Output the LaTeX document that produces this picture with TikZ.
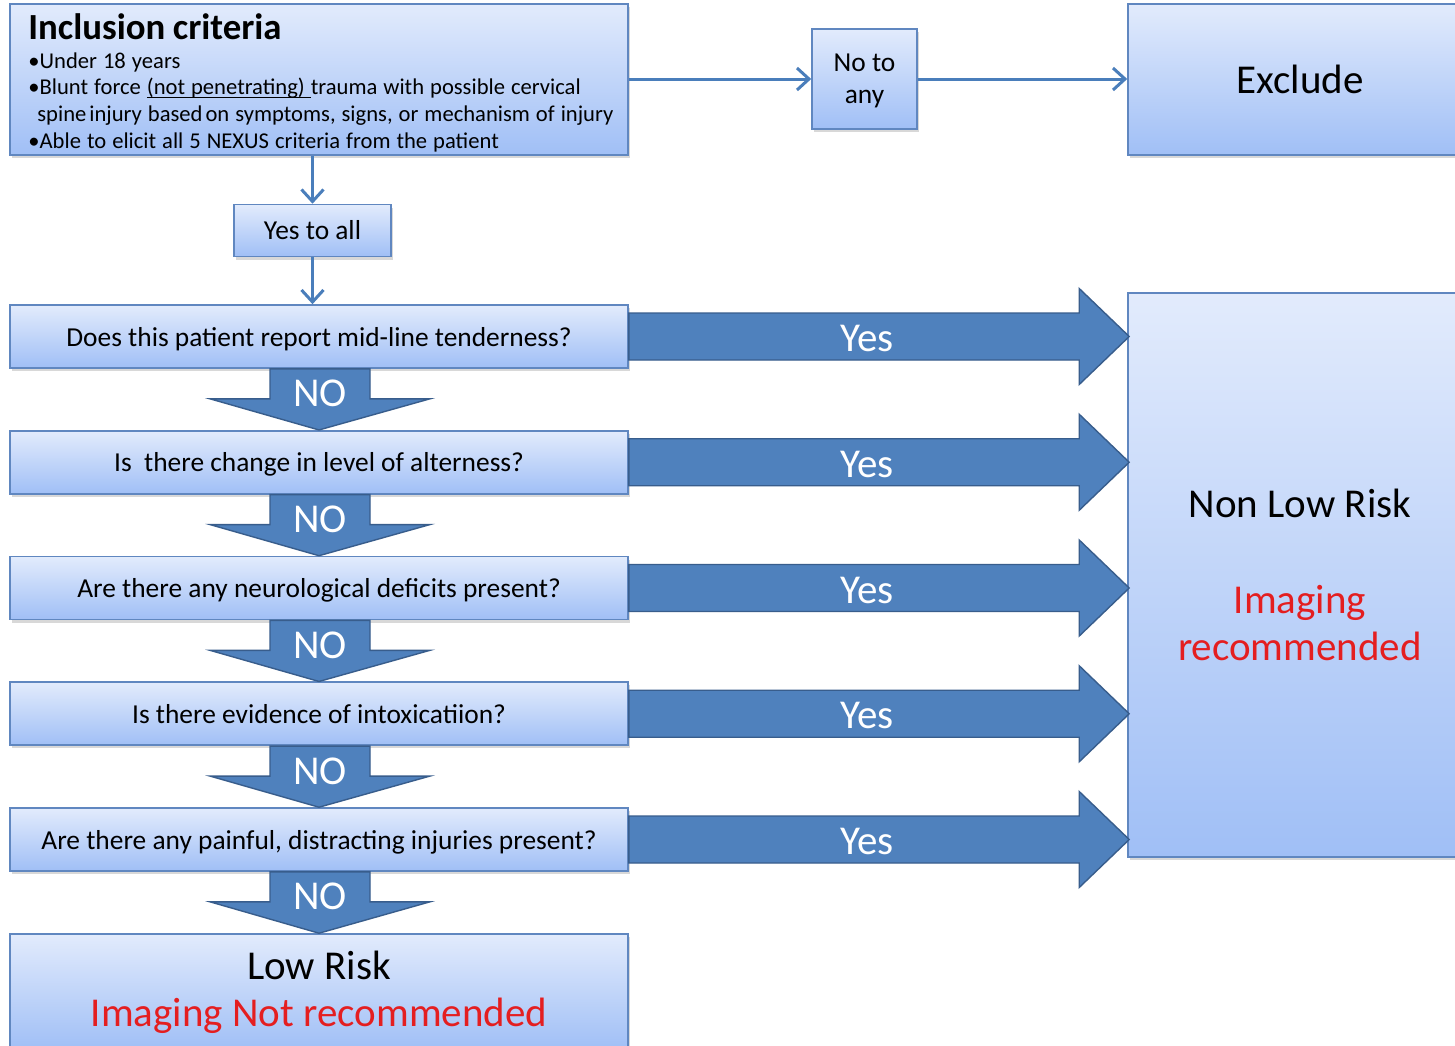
\documentclass[tikz,border=0pt]{standalone}
\usepackage{fontspec}
\setmainfont{Carlito}
\usetikzlibrary{calc, arrows.meta, shadows}
\definecolor{boxtop}{RGB}{226,235,252}
\definecolor{boxbot}{RGB}{160,191,246}
\definecolor{boxline}{RGB}{96,135,192}
\definecolor{fatblue}{RGB}{79,129,189}
\definecolor{fatline}{RGB}{56,93,140}
\definecolor{thinblue}{RGB}{74,126,187}
\definecolor{alertred}{RGB}{228,30,32}
\newcommand{\critul}[1]{\setbox0\hbox{#1}\rlap{\rule[-1.6pt]{\wd0}{0.6pt}}\box0}

\begin{document}
\begin{tikzpicture}[x=0.5pt, y=-0.5pt,
    box/.style={draw=boxline, line width=0.8pt, top color=boxtop, bottom color=boxbot,
        inner sep=0pt, align=center,
        drop shadow={shadow xshift=1pt, shadow yshift=-1.5pt, opacity=0.3}},
    thin/.style={draw=thinblue, line width=1.5pt, -{Straight Barb[length=6pt,width=11pt]}},
    fat/.style={fill=fatblue, draw=fatline, line width=0.7pt},
    mid/.style={font=\fontsize{13.7}{16}\selectfont},
    big/.style={font=\fontsize{20.5}{23.5}\selectfont}]
    \useasboundingbox (0,0) rectangle (1455,1045);
    \fill[white] (0,0) rectangle (1455,1045);
    % top row
    \node[box, minimum width=309pt, minimum height=75.5pt] (incl) at (319,79.5) {};
    \node[anchor=base west, inner sep=0pt, text width=330pt, align=left,
        font=\fontsize{11.3}{13.33}\selectfont] (incltext) at (28,39)
        {{\fontsize{18.4}{20}\selectfont\bfseries Inclusion criteria\par}\vspace{1.2pt}%
        \spaceskip=3pt plus 0.3pt\relax
        \textbullet Under 18 years\\
        \textbullet Blunt force \critul{(not penetrating)\ }trauma with possible cervical\\
        \hspace*{4.5pt}spine\kern1.5pt injury based\kern1.5pt on symptoms, signs, or mechanism of injury\\
        \textbullet Able to elicit all 5 NEXUS criteria from the patient};
    \node[box, mid, text depth=0pt, minimum width=52.5pt, minimum height=50pt] (noany) at (864.5,79) {No to\\any};
    \node[box, big, minimum width=172pt, minimum height=75.5pt] (excl) at (1300,79.5) {Exclude};
    \node[box, mid, minimum width=78.5pt, minimum height=26pt] (yesall) at (312.5,230.5) {Yes to all};
    % questions
    \foreach \i/\y/\txt in {1/336.5/{Does this patient report mid-line tenderness?},
            2/462.25/{Is\ \ there change in level of alterness?},
            3/588/{Are there any neurological deficits present?},
            4/713.75/{Is there evidence of intoxicatiion?},
            5/839.5/{Are there any painful, distracting injuries present?}}
        \node[box, mid, text depth=0pt, minimum width=309pt, minimum height=31.5pt] (q\i) at (319,\y) {\txt};
    \node[box, big, minimum width=309pt, minimum height=58pt] (low) at (319,992)
        {Low Risk\\\textcolor{alertred}{Imaging Not recommended}};
    \node[box, big, minimum width=172pt, minimum height=282pt] (nlr) at (1300,575)
        {Non Low Risk\\[24.5pt]\textcolor{alertred}{Imaging}\\\textcolor{alertred}{recommended}};
    % thin connectors
    \draw[thin] (incl.east |- noany.west) -- (noany.west);
    \draw[thin] (noany.east) -- (noany.east -| excl.west);
    \draw[thin] (yesall.north |- incl.south) -- (yesall.north);
    \draw[thin] (yesall.south) -- (yesall.south |- q1.north);
    % yes arrows
    \foreach \i in {1,...,5} {
        \path[fat] ($(q\i.east)+(0,-23.5)$) -- ($(q\i.east -| nlr.west)+(-48,-23.5)$)
            -- ($(q\i.east -| nlr.west)+(-48,-48)$) -- ($(q\i.east -| nlr.west)+(2,0)$)
            -- ($(q\i.east -| nlr.west)+(-48,48)$) -- ($(q\i.east -| nlr.west)+(-48,23.5)$)
            -- ($(q\i.east)+(0,23.5)$) -- cycle;
        \node[big, text=white] (yes\i) at ($(q\i.east)+(238,2)$) {Yes};
    }
    % no arrows
    \foreach \i/\j in {1/q2, 2/q3, 3/q4, 4/q5, 5/low} {
        \path[fat] ($(q\i.south)+(-49,0)$) -- ($(q\i.south)+(-49,30)$)
            -- ($(q\i.south)+(-109,30)$) -- (\j.north) -- ($(q\i.south)+(111,30)$)
            -- ($(q\i.south)+(51,30)$) -- ($(q\i.south)+(51,0)$) -- cycle;
        \node[big, text=white] (no\i) at ($(q\i.south)+(1,25)$) {NO};
    }
\end{tikzpicture}
\end{document}
